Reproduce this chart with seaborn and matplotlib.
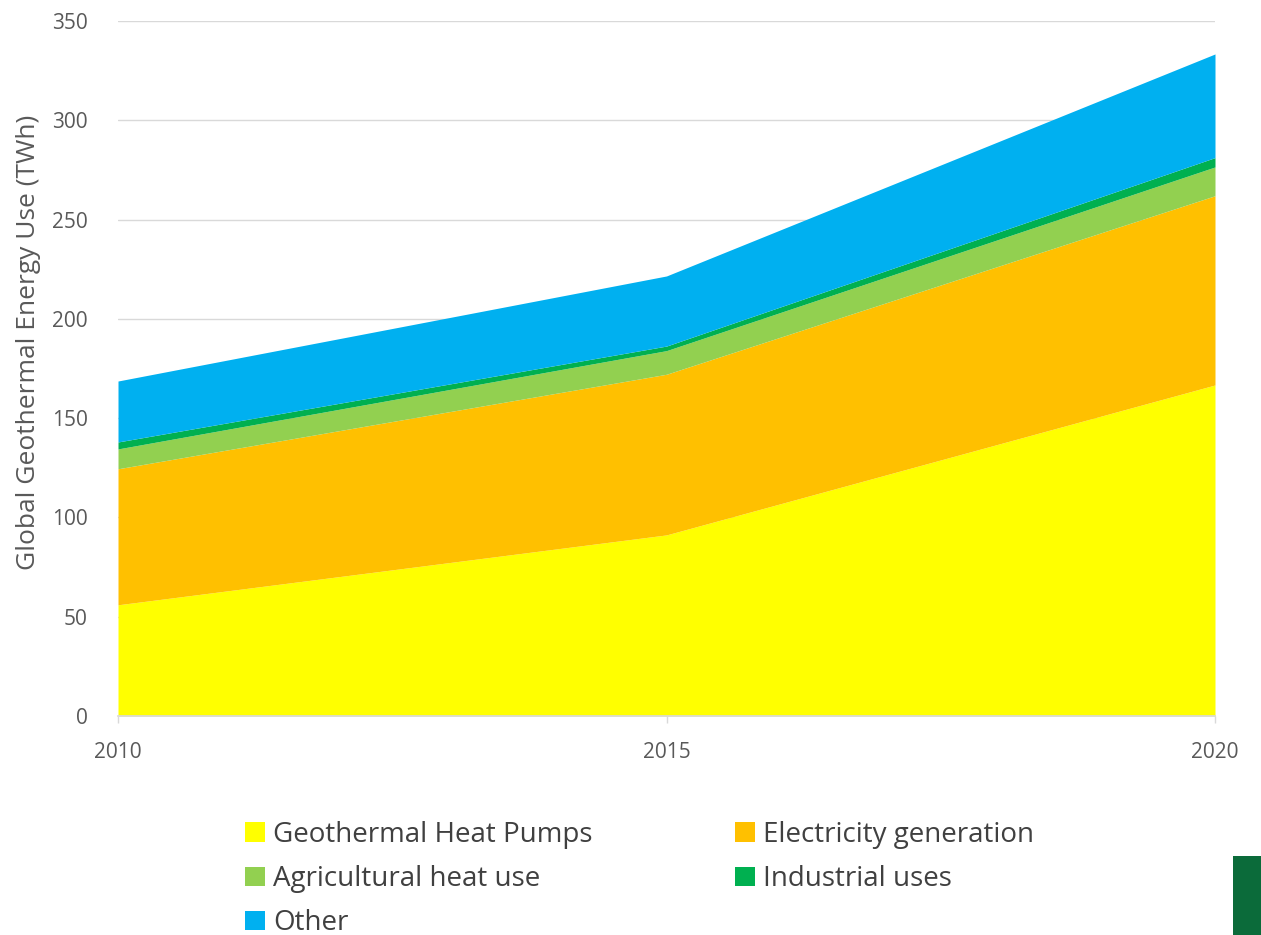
import seaborn as sns
import matplotlib.pyplot as plt
from matplotlib.patches import Patch, Rectangle

years = [2010, 2015, 2020]
heat_pumps = [56.0, 91.2, 166.7]
electricity = [68.5, 80.9, 95.3]
agricultural = [10.0, 11.9, 14.5]
industrial = [3.5, 2.3, 4.7]
other = [30.7, 35.3, 52.2]

labels = ["Geothermal Heat Pumps", "Electricity generation", "Agricultural heat use",
          "Industrial uses", "Other"]
colors = ["#FFFF00", "#FFC000", "#92D050", "#00B050", "#00B0F0"]

sns.set_theme(style="white")
plt.rcParams['font.family'] = ['Open Sans', 'DejaVu Sans']

fig = plt.figure(figsize=(12.61, 9.35), dpi=100)
ax = fig.add_axes([118/1261, 1 - 716/935, (1215 - 118)/1261, (716 - 21)/935])

ax.stackplot(years, heat_pumps, electricity, agricultural, industrial, other,
             colors=colors, labels=labels, linewidth=0, zorder=2)

ax.set_xlim(2010, 2020)
ax.set_ylim(0, 350)
ax.set_yticks(range(0, 351, 50))
ax.set_xticks(years)
ax.yaxis.grid(True, color="#D9D9D9", linewidth=1, zorder=0)
for s in ["top", "right", "left"]:
    ax.spines[s].set_visible(False)
ax.spines["bottom"].set_color("#D9D9D9")
ax.tick_params(axis="x", colors="#595959", labelsize=15, length=5, width=1, pad=14,
               bottom=True, color="#D9D9D9")
ax.tick_params(axis="y", colors="#595959", labelsize=15, length=0, pad=22)
ax.set_ylabel("Global Geothermal Energy Use (TWh)", color="#595959", fontsize=19)
ax.yaxis.set_label_coords(-0.07, 0.538)

# legend filled row by row like the reference
order = [0, 2, 4, 1, 3]
handles = [Patch(facecolor=colors[i], edgecolor="none") for i in order]
fig.legend(handles, [labels[i] for i in order], loc="upper left",
           bbox_to_anchor=(245/1261, 1 - 821/935),
           ncol=2, frameon=False, fontsize=20, labelcolor="#404040",
           handlelength=0.72, handleheight=0.72, handletextpad=0.3,
           columnspacing=5.1, labelspacing=0.58, borderpad=0, borderaxespad=0)

fig.patches.append(Rectangle((1233/1261, 0), 28/1261, 79/935, transform=fig.transFigure,
                             facecolor="#0B6B3A", edgecolor="none"))

fig.savefig("out.png", dpi=100)
